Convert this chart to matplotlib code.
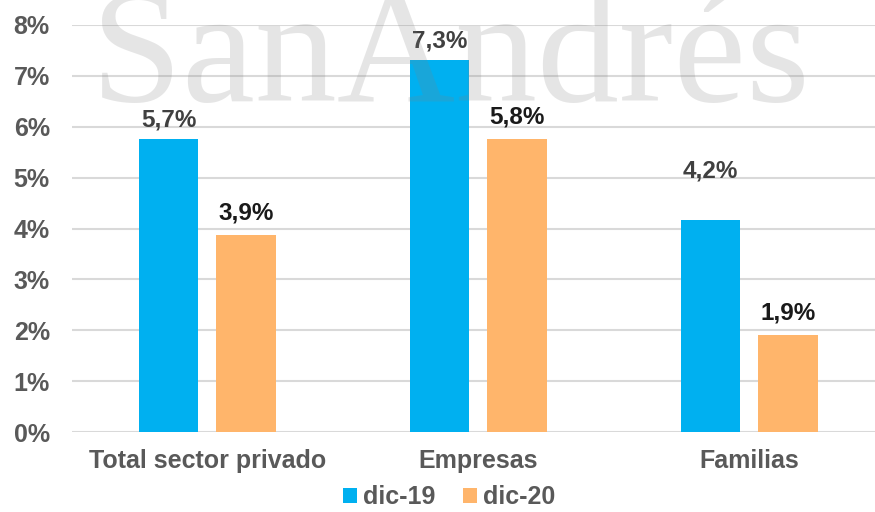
import matplotlib.pyplot as plt
import numpy as np

categories = ['Total sector privado', 'Empresas', 'Familias']
dic19 = [5.75, 7.31, 4.17]
dic20 = [3.87, 5.75, 1.90]
labels19 = ['5,7%', '7,3%', '4,2%']
labels20 = ['3,9%', '5,8%', '1,9%']
yticks = [0, 1, 2, 3, 4, 5, 6, 7, 8]

plt.rcParams['font.family'] = ['Liberation Sans', 'DejaVu Sans']
plt.rcParams['font.weight'] = 'bold'

fig = plt.figure(figsize=(8.75, 5.12), dpi=100)
ax = fig.add_axes([72/875, 80/512, 813/875, 407/512])

x = np.arange(len(categories))
w = 0.221
b1 = ax.bar(x - 0.144, dic19, w, color='#00B0F0', label='dic-19', zorder=2)
b2 = ax.bar(x + 0.142, dic20, w, color='#FFB56B', label='dic-20', zorder=2)

# data labels
offs19 = [14, 14, 35]
for i, v in enumerate(dic19):
    ax.annotate(labels19[i], (x[i] - 0.144, v), xytext=(0, offs19[i]), textcoords='offset points',
                ha='center', va='center', fontsize=17.5, fontweight='bold', color='#404040')
for i, v in enumerate(dic20):
    ax.annotate(labels20[i], (x[i] + 0.142, v), xytext=(0, 16), textcoords='offset points',
                ha='center', va='center', fontsize=17.5, fontweight='bold', color='#1a1a1a')

ax.set_xlim(-0.5, 2.5)
ax.set_ylim(0, 8)
ax.set_yticks(yticks)
ax.set_yticklabels(['%d%%' % t for t in yticks])
ax.set_xticks(x)
ax.set_xticklabels(categories)
ax.tick_params(axis='both', length=0, labelsize=18, labelcolor='#595959')
ax.tick_params(axis='y', pad=16)
ax.tick_params(axis='x', pad=12)
for lab in ax.get_xticklabels() + ax.get_yticklabels():
    lab.set_fontweight('bold')
ax.grid(axis='y', color='#d9d9d9', lw=1.5, zorder=0)
ax.set_axisbelow(True)
for s in ax.spines.values():
    s.set_visible(False)

leg = fig.legend(handles=[b1, b2], loc='center', bbox_to_anchor=(449/875, 1 - 497/512), ncol=2,
                 frameon=False, fontsize=18, handlelength=0.55, handleheight=0.55,
                 handletextpad=0.25, columnspacing=1.1)
for t in leg.get_texts():
    t.set_color('#595959')
    t.set_fontweight('bold')

# watermark
fig.text(450/875, 1 - 101/512, 'SanAndrés', fontsize=118, family='Liberation Serif',
         fontweight='normal', color='#808080', alpha=0.2, ha='center', va='baseline', zorder=10)

fig.savefig('out.png', dpi=100)
